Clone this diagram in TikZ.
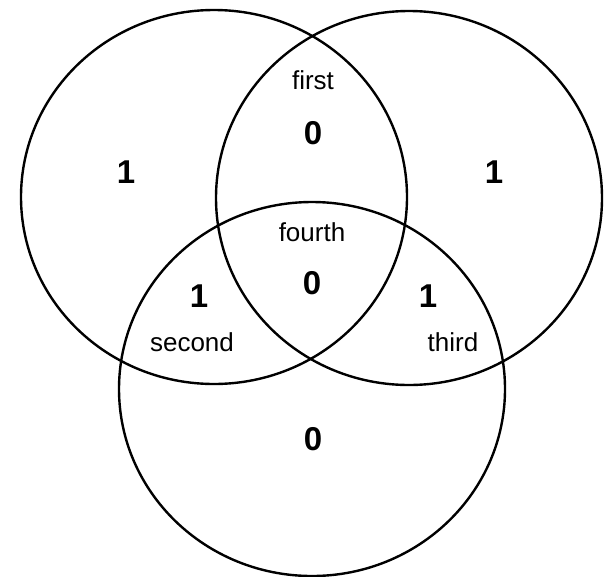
\documentclass[tikz,border=0pt]{standalone}
\usepackage{fontspec}
\setmainfont{Liberation Sans}
\usetikzlibrary{shapes.geometric}
\begin{document}
\begin{tikzpicture}[x=1pt,y=-1pt,
  setring/.style={draw=black, line width=2.4pt, ellipse, inner sep=0pt,
    minimum width=386pt, minimum height=374pt},
  lbl/.style={font=\fontsize{26}{30}\selectfont, inner sep=0pt},
  num/.style={font=\fontsize{33}{37}\selectfont\bfseries, inner sep=0pt}]
\useasboundingbox (0,0) rectangle (610,576);
\node[setring] (left) at (214,197) {};
\node[setring] (right) at (409,198) {};
\node[setring] (bottom) at (312,389) {};
\node[lbl] (first) at (313,80) {first};
\node[num] (n1) at (313,133) {0};
\node[num] (nl) at (126,172) {1};
\node[num] (nr) at (494,172) {1};
\node[lbl] (fourth) at (312,232) {fourth};
\node[num] (nc) at (312,283) {0};
\node[num] (ns) at (199,296) {1};
\node[lbl] (second) at (192,342) {second};
\node[num] (nt) at (428,296) {1};
\node[lbl] (third) at (453,342) {third};
\node[num] (nb) at (313,439) {0};
\end{tikzpicture}
\end{document}
